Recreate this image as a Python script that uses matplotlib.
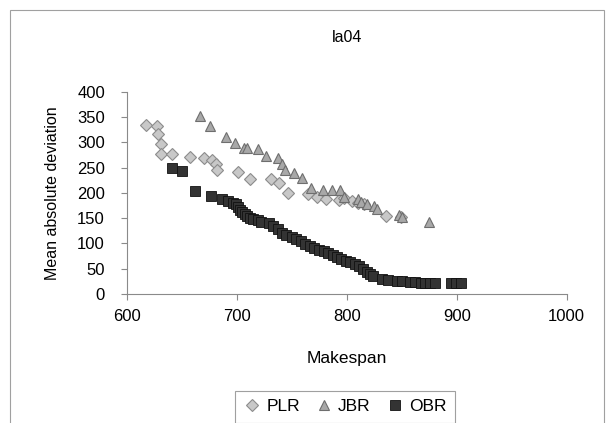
import matplotlib.pyplot as plt
from matplotlib.patches import Rectangle

plt.rcParams['font.family'] = ['Liberation Sans', 'DejaVu Sans']

# PLR series (diamonds)
plr_x = [617, 627, 628, 631, 631, 641, 657, 670, 677, 681, 682, 701, 712, 731,
         738, 746, 765, 773, 781, 793, 797, 805, 810, 816, 836, 849]
plr_y = [335, 333, 317, 297, 278, 278, 272, 270, 265, 258, 245, 241, 228, 228,
         220, 200, 198, 192, 188, 186, 190, 185, 180, 178, 155, 152]

# JBR series (triangles)
jbr_x = [666, 675, 690, 698, 706, 709, 719, 726, 737, 741, 744, 752, 759, 767,
         778, 786, 794, 797, 810, 813, 818, 825, 827, 847, 850, 875]
jbr_y = [352, 333, 311, 299, 290, 289, 287, 273, 270, 257, 246, 240, 230, 209,
         206, 206, 206, 193, 189, 183, 178, 174, 168, 156, 152, 143]

# OBR series (squares)
obr_x = [641, 650, 662, 676, 686, 692, 696, 699, 701, 703, 705, 707, 709, 712,
         715, 719, 722, 729, 733, 737, 741, 745, 750, 754, 758, 762, 766, 770,
         775, 779, 783, 787, 791, 795, 799, 803, 807, 811, 815, 818, 821, 824,
         832, 837, 846, 850, 857, 862, 867, 871, 876, 880, 895, 899, 904]
obr_y = [249, 244, 203, 194, 189, 184, 181, 178, 173, 167, 162, 158, 155, 151,
         148, 146, 143, 140, 134, 128, 121, 117, 113, 108, 104, 99, 95, 91,
         88, 85, 82, 78, 74, 70, 66, 63, 59, 55, 49, 44, 40, 35,
         29, 28, 26, 25, 24, 23, 22, 22, 22, 22, 21, 21, 21]

fig = plt.figure(figsize=(6.14, 4.23), dpi=100)
ax = fig.add_axes([0.207, 0.305, 0.716, 0.4775])

ax.plot(plr_x, plr_y, 'D', ms=6, mfc='#c8c8c8', mec='#8c8c8c', mew=0.8,
        linestyle='none', label='PLR')
ax.plot(jbr_x, jbr_y, '^', ms=7.5, mfc='#a8a8a8', mec='#6e6e6e', mew=0.8,
        linestyle='none', label='JBR')
ax.plot(obr_x, obr_y, 's', ms=6.5, mfc='#333333', mec='#111111', mew=0.6,
        linestyle='none', label='OBR')

ax.set_xlim(600, 1000)
ax.set_ylim(0, 400)
ax.set_xticks([600, 700, 800, 900, 1000])
ax.set_yticks(range(0, 401, 50))
for s in ['top', 'right']:
    ax.spines[s].set_visible(False)
for s in ['left', 'bottom']:
    ax.spines[s].set_color('#8a8a8a')
ax.tick_params(colors='#8a8a8a', labelcolor='black', labelsize=12,
               length=4, direction='out')
ax.tick_params(axis='y', pad=12)
ax.tick_params(axis='x', pad=7)

ax.set_title('la04', fontsize=11.5, pad=36)
ax.set_xlabel('Makespan', fontsize=12.5, labelpad=19)
ax.set_ylabel('Mean absolute deviation', fontsize=11.5, labelpad=12)

leg = fig.legend(loc='upper center', bbox_to_anchor=(0.562, 0.097), ncol=3,
                 fancybox=False, edgecolor='#888888', fontsize=12.5,
                 handletextpad=0.3, columnspacing=0.9, borderpad=0.5,
                 handlelength=1.0)
leg.get_frame().set_linewidth(0.8)

# outer chart border
fig.patches.append(Rectangle((10 / 614, -0.1), 594 / 614, 1.1 - 10 / 423,
                             transform=fig.transFigure, fill=False,
                             edgecolor='#a0a0a0', linewidth=0.8))

fig.savefig('out.png', dpi=100)
